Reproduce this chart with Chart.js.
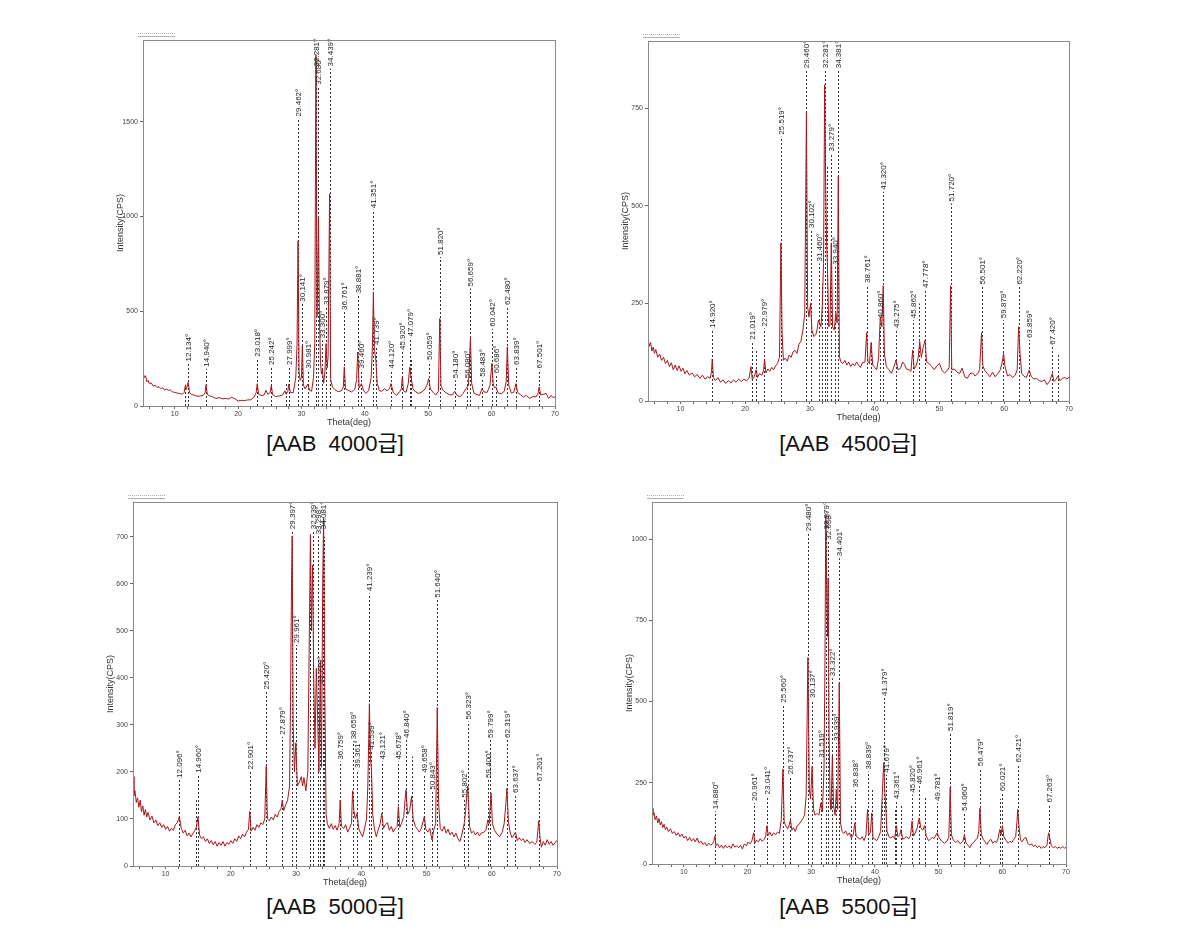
<!DOCTYPE html>
<html><head><meta charset="utf-8">
<script src="https://cdn.jsdelivr.net/npm/chart.js@4.4.1/dist/chart.umd.min.js"></script>
<style>
html,body{margin:0;padding:0;background:#fff;}
body{width:1192px;height:935px;position:relative;overflow:hidden;}
canvas{position:absolute;}
.cap{position:absolute;font-size:22px;line-height:22px;color:#111;white-space:pre;font-family:"Liberation Sans","Noto Sans CJK KR",sans-serif;transform:translateX(-50%);}
</style></head><body>
<canvas id="c1"></canvas><canvas id="c2"></canvas><canvas id="c3"></canvas><canvas id="c4"></canvas>
<div class="cap" id="t1">[AAB  4000급]</div>
<div class="cap" id="t2">[AAB  4500급]</div>
<div class="cap" id="t3">[AAB  5000급]</div>
<div class="cap" id="t4">[AAB  5500급]</div>
<script>
// ---------- data ----------
const thetaTicks = [6,8,10,12,14,16,18,20,22,24,26,28,30,32,34,36,38,40,42,44,46,48,50,52,54,56,58,60,62,64,66,68,70];
const yTicks4000 = [0,500,1000,1500];
const yTicks4500 = [0,250,500,750];
const yTicks5000 = [0,100,200,300,400,500,600,700];
const yTicks5500 = [0,250,500,750,1000];

const pattern4000 = [[5.0,180],[5.2,150],[5.4,160],[5.6,128],[5.8,135],[6.0,118],[6.3,122],[6.6,105],[6.9,110],[7.2,98],[7.5,102],[7.8,92],[8.1,96],[8.4,84],[8.7,90],[9.0,82],[9.3,86],[9.6,75],[10.0,72],[10.4,68],[10.8,66],[11.2,62],[11.5,72],[11.7,112],[11.85,88],[12.13,125],[12.35,70],[12.7,60],[13.1,57],[13.5,52],[14.0,52],[14.5,56],[14.8,70],[14.94,112],[15.15,60],[15.5,54],[16.0,48],[16.5,40],[17.0,44],[17.5,38],[18.0,40],[18.5,37],[19.0,46],[19.5,38],[20.0,26],[20.5,30],[21.0,29],[21.5,32],[22.0,33],[22.5,46],[22.85,70],[23.02,118],[23.25,62],[23.7,55],[24.1,58],[24.4,82],[24.7,62],[25.05,70],[25.24,108],[25.45,60],[25.9,50],[26.4,52],[27.0,58],[27.4,80],[27.6,62],[27.85,78],[28.0,115],[28.25,72],[28.7,70],[29.1,150],[29.3,320],[29.46,872],[29.62,180],[29.8,135],[30.0,150],[30.14,318],[30.3,110],[30.6,90],[30.98,115],[31.3,82],[31.6,78],[31.9,150],[32.1,330],[32.28,1855],[32.45,470],[32.55,650],[32.68,995],[32.82,500],[33.0,230],[33.15,170],[33.3,192],[33.5,120],[33.7,180],[33.88,330],[34.05,200],[34.2,260],[34.44,1120],[34.6,140],[34.9,100],[35.3,85],[35.8,76],[36.3,80],[36.6,100],[36.76,206],[36.95,90],[37.4,82],[37.9,74],[38.4,88],[38.7,140],[38.88,285],[39.1,95],[39.46,118],[39.8,80],[40.2,66],[40.6,82],[41.0,150],[41.2,320],[41.35,602],[41.5,300],[41.74,240],[41.95,120],[42.3,80],[42.7,78],[43.1,92],[43.5,80],[43.9,92],[44.12,118],[44.5,70],[45.0,56],[45.5,76],[45.75,90],[45.92,155],[46.1,80],[46.5,72],[46.85,118],[47.08,205],[47.3,150],[47.6,90],[48.0,75],[48.5,66],[49.0,74],[49.5,90],[49.8,110],[50.06,144],[50.35,90],[50.8,70],[51.2,58],[51.6,78],[51.82,462],[52.0,108],[52.3,84],[52.8,70],[53.3,60],[53.8,58],[54.18,78],[54.5,58],[55.0,48],[55.5,66],[55.9,90],[56.08,96],[56.35,110],[56.66,362],[56.85,120],[57.2,68],[57.7,60],[58.1,56],[58.48,92],[58.8,74],[59.3,72],[59.75,110],[60.04,225],[60.25,120],[60.45,96],[60.69,100],[61.0,70],[61.5,64],[62.0,78],[62.3,130],[62.48,312],[62.7,110],[63.1,68],[63.5,72],[63.84,118],[64.1,72],[64.6,58],[65.0,48],[65.5,56],[66.0,40],[66.5,50],[67.0,48],[67.3,62],[67.5,100],[67.75,58],[68.2,62],[68.6,66],[69.0,40],[69.4,56],[69.7,44],[70.0,48]];

const markers4000 = [[11.6,110,''],[12.134,224,'12.134°'],[14.940,197,'14.940°'],[23.018,250,'23.018°'],[25.242,206,'25.242°'],[27.5,120,''],[27.999,206,'27.999°'],[29.462,1518,'29.462°'],[30.141,540,'30.141°'],[30.981,188,'30.981°'],[32.281,1782,'32.281°'],[32.680,1685,'32.680°'],[33.300,347,'33.300°'],[33.879,523,'33.879°'],[34.439,1782,'34.439°'],[36.761,496,'36.761°'],[38.881,584,'38.881°'],[39.460,188,'39.460°'],[41.351,1033,'41.351°'],[41.739,312,'41.739°'],[44.120,188,'44.120°'],[45.920,285,'45.920°'],[47.079,356,'47.079°'],[47.3,250,''],[50.059,232,'50.059°'],[51.820,787,'51.820°'],[54.180,136,'54.180°'],[56.080,136,'56.080°'],[56.659,620,'56.659°'],[58.483,144,'58.483°'],[60.042,408,'60.042°'],[60.686,162,'60.686°'],[62.480,523,'62.480°'],[63.839,206,'63.839°'],[67.501,188,'67.501°']];

const pattern4500 = [[5.0,160],[5.2,140],[5.4,150],[5.6,128],[5.8,138],[6.0,122],[6.2,132],[6.5,112],[6.8,120],[7.1,104],[7.4,112],[7.7,96],[8.0,104],[8.3,88],[8.6,98],[8.9,80],[9.2,92],[9.5,78],[9.8,90],[10.1,76],[10.4,84],[10.7,70],[11.0,78],[11.4,66],[11.8,72],[12.2,62],[12.6,68],[13.0,58],[13.4,66],[13.8,56],[14.2,62],[14.6,58],[14.8,75],[14.92,108],[15.1,60],[15.4,52],[15.8,60],[16.2,48],[16.6,54],[17.0,45],[17.4,52],[17.8,46],[18.2,54],[18.6,48],[19.0,56],[19.4,50],[19.8,56],[20.2,52],[20.6,58],[20.9,88],[21.1,55],[21.4,62],[21.7,80],[21.9,60],[22.2,70],[22.6,66],[22.85,80],[23.0,108],[23.2,72],[23.5,82],[23.8,76],[24.1,86],[24.4,80],[24.7,90],[25.0,96],[25.3,112],[25.52,405],[25.7,175],[25.9,104],[26.2,110],[26.5,102],[26.8,118],[27.1,112],[27.4,126],[27.7,130],[28.0,122],[28.3,145],[28.6,152],[28.9,180],[29.2,225],[29.46,738],[29.65,240],[29.85,215],[30.1,250],[30.3,182],[30.6,165],[30.9,170],[31.1,182],[31.3,207],[31.5,200],[31.7,190],[31.9,240],[32.1,352],[32.28,810],[32.42,570],[32.55,420],[32.7,350],[32.9,190],[33.1,195],[33.3,405],[33.5,190],[33.75,182],[34.0,224],[34.2,200],[34.38,575],[34.55,113],[34.8,100],[35.1,96],[35.4,104],[35.7,92],[36.0,100],[36.3,88],[36.6,96],[36.9,90],[37.2,100],[37.5,92],[37.8,86],[38.1,98],[38.5,100],[38.76,175],[38.95,100],[39.2,96],[39.45,150],[39.7,92],[40.0,86],[40.3,80],[40.6,110],[40.86,216],[41.1,190],[41.32,295],[41.5,120],[41.8,88],[42.2,80],[42.6,71],[42.9,84],[43.28,105],[43.6,80],[44.0,84],[44.3,100],[44.6,94],[44.9,82],[45.3,80],[45.6,76],[45.86,130],[46.1,82],[46.4,90],[46.7,110],[46.95,152],[47.2,112],[47.5,138],[47.78,156],[48.0,100],[48.4,96],[48.8,88],[49.2,80],[49.6,90],[50.0,96],[50.4,78],[50.8,72],[51.2,78],[51.5,86],[51.72,295],[51.9,80],[52.3,82],[52.7,74],[53.1,70],[53.5,84],[53.9,62],[54.3,58],[54.7,70],[55.1,72],[55.5,64],[55.9,70],[56.2,80],[56.5,175],[56.7,90],[57.0,78],[57.4,70],[57.8,62],[58.2,74],[58.6,62],[59.0,70],[59.4,80],[59.7,100],[59.9,122],[60.1,90],[60.5,64],[60.9,68],[61.3,60],[61.7,66],[62.0,80],[62.22,190],[62.45,120],[62.7,70],[63.0,64],[63.4,60],[63.86,79],[64.2,62],[64.6,56],[65.0,58],[65.4,52],[65.8,50],[66.2,54],[66.6,42],[67.0,50],[67.42,70],[67.7,50],[68.0,56],[68.3,64],[68.6,52],[69.0,58],[69.4,60],[69.7,56],[70.0,62]];

const markers4500 = [[14.920,182,'14.920°'],[21.019,152,'21.019°'],[21.7,130,''],[22.979,186,'22.979°'],[25.519,677,'25.519°'],[29.460,847,'29.460°'],[30.102,438,'30.102°'],[31.460,352,'31.460°'],[31.8,300,''],[32.281,847,'32.281°'],[32.6,600,''],[33.279,634,'33.279°'],[33.940,344,'33.940°'],[34.381,847,'34.381°'],[38.761,297,'38.761°'],[39.45,150,''],[40.860,207,'40.860°'],[41.320,536,'41.320°'],[43.275,182,'43.275°'],[45.862,207,'45.862°'],[46.9,250,''],[47.778,284,'47.778°'],[51.720,506,'51.720°'],[56.501,293,'56.501°'],[59.879,207,'59.879°'],[62.220,293,'62.220°'],[63.859,156,'63.859°'],[67.420,139,'67.420°'],[68.3,122,'']];

const pattern5000 = [[5.0,190],[5.15,150],[5.3,160],[5.5,135],[5.7,145],[5.9,125],[6.1,140],[6.3,115],[6.5,128],[6.7,108],[6.9,120],[7.1,104],[7.3,114],[7.6,98],[7.9,106],[8.2,92],[8.5,98],[8.8,86],[9.1,92],[9.4,82],[9.7,88],[10.0,78],[10.3,84],[10.6,74],[10.9,80],[11.2,76],[11.5,88],[11.8,92],[12.1,105],[12.4,80],[12.7,70],[13.0,76],[13.3,64],[13.6,70],[13.9,62],[14.2,70],[14.5,76],[14.7,82],[14.96,104],[15.2,66],[15.5,58],[15.8,62],[16.1,52],[16.4,58],[16.7,48],[17.0,54],[17.3,45],[17.6,52],[17.9,42],[18.2,50],[18.5,44],[18.8,52],[19.1,42],[19.4,50],[19.7,46],[20.0,54],[20.3,48],[20.6,58],[20.9,52],[21.2,64],[21.5,58],[21.8,68],[22.1,62],[22.4,72],[22.7,78],[22.9,116],[23.1,74],[23.4,82],[23.7,76],[24.0,88],[24.3,82],[24.6,92],[24.9,88],[25.2,100],[25.42,212],[25.6,100],[25.9,96],[26.2,104],[26.5,98],[26.8,110],[27.1,104],[27.4,116],[27.7,122],[27.88,140],[28.1,118],[28.4,130],[28.7,140],[29.0,170],[29.15,350],[29.3,600],[29.4,702],[29.55,300],[29.75,200],[29.96,262],[30.2,170],[30.5,178],[30.8,190],[31.0,170],[31.2,188],[31.5,160],[31.8,200],[32.0,450],[32.2,705],[32.35,500],[32.54,640],[32.7,400],[32.9,250],[33.1,420],[33.3,320],[33.5,200],[33.72,435],[33.9,210],[34.08,600],[34.22,740],[34.4,380],[34.6,110],[34.8,90],[35.1,80],[35.4,90],[35.7,78],[36.0,86],[36.3,76],[36.6,90],[36.76,140],[36.95,84],[37.3,80],[37.6,88],[37.9,72],[38.2,80],[38.5,92],[38.66,160],[38.85,118],[39.1,100],[39.36,112],[39.6,80],[39.9,70],[40.2,62],[40.5,80],[40.8,100],[41.0,170],[41.24,345],[41.4,230],[41.56,205],[41.75,110],[42.0,80],[42.3,62],[42.6,78],[42.9,90],[43.12,112],[43.4,80],[43.7,88],[44.0,92],[44.3,76],[44.6,84],[44.9,72],[45.2,80],[45.5,84],[45.68,126],[45.9,82],[46.2,92],[46.5,105],[46.84,162],[47.1,110],[47.4,118],[47.7,148],[47.95,100],[48.3,84],[48.6,78],[48.9,72],[49.2,80],[49.66,105],[49.9,78],[50.2,72],[50.5,80],[50.84,55],[51.1,76],[51.4,90],[51.64,337],[51.85,135],[52.1,80],[52.4,74],[52.7,84],[53.0,70],[53.3,78],[53.6,66],[53.9,72],[54.2,62],[54.5,70],[54.8,58],[55.1,52],[55.4,66],[55.8,92],[56.0,120],[56.32,170],[56.6,84],[56.9,70],[57.2,74],[57.5,66],[57.8,72],[58.1,64],[58.4,70],[58.8,72],[59.1,76],[59.4,98],[59.6,90],[59.9,155],[60.1,90],[60.4,76],[60.8,68],[61.2,62],[61.6,72],[61.9,90],[62.15,130],[62.32,165],[62.55,95],[62.8,72],[63.1,60],[63.4,66],[63.64,72],[63.9,54],[64.2,60],[64.5,54],[64.8,58],[65.1,50],[65.4,56],[65.8,48],[66.2,52],[66.6,46],[66.9,50],[67.2,96],[67.4,60],[67.6,40],[67.9,52],[68.2,44],[68.5,56],[68.8,46],[69.1,52],[69.4,44],[69.7,50],[70.0,54]];

const markers5000 = [[12.096,183,'12.096°'],[14.6,140,''],[14.960,194,'14.960°'],[22.901,201,'22.901°'],[25.420,371,'25.420°'],[27.879,275,'27.879°'],[29.397,712,'29.397°'],[29.961,470,'29.961°'],[32.2,700,''],[32.539,712,'32.539°'],[33.298,701,'33.298°'],[33.719,382,'33.719°'],[34.081,712,'34.081°'],[34.3,700,''],[36.759,222,'36.759°'],[38.659,265,'38.659°'],[39.361,204,'39.361°'],[41.239,580,'41.239°'],[41.539,243,'41.539°'],[43.121,222,'43.121°'],[45.678,222,'45.678°'],[46.840,268,'46.840°'],[47.7,233,''],[49.658,194,'49.658°'],[50.843,158,'50.843°'],[51.640,566,'51.640°'],[55.802,141,'55.802°'],[56.323,307,'56.323°'],[59.400,183,'59.400°'],[59.799,268,'59.799°'],[62.319,268,'62.319°'],[63.637,151,'63.637°'],[67.201,176,'67.201°']];

const pattern5500 = [[5.0,172],[5.15,150],[5.3,158],[5.5,136],[5.7,148],[5.9,126],[6.1,140],[6.3,120],[6.5,130],[6.7,112],[6.9,122],[7.1,106],[7.3,114],[7.6,100],[7.9,108],[8.2,94],[8.5,100],[8.8,88],[9.1,96],[9.4,84],[9.7,92],[10.0,80],[10.3,86],[10.6,72],[10.9,82],[11.2,70],[11.5,78],[11.8,68],[12.1,80],[12.4,64],[12.7,70],[13.0,60],[13.3,66],[13.6,56],[13.9,64],[14.2,58],[14.5,62],[14.7,70],[14.88,86],[15.05,56],[15.3,62],[15.6,50],[15.9,58],[16.2,48],[16.5,58],[16.8,50],[17.1,56],[17.4,48],[17.7,62],[18.0,52],[18.3,56],[18.6,50],[18.9,58],[19.2,46],[19.5,62],[19.8,56],[20.1,68],[20.4,62],[20.7,72],[20.96,96],[21.15,64],[21.4,74],[21.7,68],[22.0,78],[22.3,70],[22.6,76],[22.85,86],[23.04,118],[23.25,88],[23.5,98],[23.8,86],[24.1,96],[24.4,90],[24.7,98],[25.0,94],[25.3,136],[25.56,292],[25.75,130],[26.0,118],[26.3,108],[26.55,120],[26.74,136],[26.95,104],[27.2,112],[27.5,100],[27.8,118],[28.1,122],[28.4,132],[28.7,140],[28.95,150],[29.2,210],[29.48,635],[29.7,230],[29.9,200],[30.14,300],[30.35,170],[30.6,150],[30.9,156],[31.2,150],[31.52,188],[31.75,160],[32.0,290],[32.15,600],[32.28,1072],[32.42,860],[32.55,700],[32.66,880],[32.8,400],[32.95,200],[33.1,168],[33.32,332],[33.5,180],[33.75,150],[33.94,230],[34.15,168],[34.4,558],[34.6,126],[34.85,100],[35.1,94],[35.4,102],[35.7,88],[36.0,96],[36.3,80],[36.6,90],[36.84,126],[37.05,86],[37.4,80],[37.7,76],[38.0,84],[38.3,72],[38.6,90],[38.84,168],[39.05,90],[39.3,98],[39.5,157],[39.7,80],[40.0,76],[40.3,72],[40.6,84],[40.9,100],[41.1,190],[41.38,312],[41.55,220],[41.68,188],[41.9,100],[42.2,84],[42.5,80],[42.8,86],[43.1,78],[43.36,118],[43.6,84],[43.9,90],[44.1,106],[44.35,76],[44.7,80],[45.0,84],[45.3,78],[45.6,88],[45.82,132],[46.05,86],[46.35,96],[46.65,112],[46.96,142],[47.2,112],[47.5,104],[47.8,118],[48.05,86],[48.4,72],[48.7,76],[49.0,82],[49.3,78],[49.55,88],[49.78,96],[50.1,80],[50.5,70],[50.9,64],[51.3,70],[51.6,82],[51.82,236],[52.0,90],[52.3,74],[52.7,66],[53.0,72],[53.4,62],[53.8,70],[54.06,90],[54.3,64],[54.6,58],[54.9,50],[55.2,62],[55.5,66],[55.8,74],[56.1,80],[56.3,100],[56.48,172],[56.7,90],[57.0,76],[57.3,68],[57.6,60],[57.9,70],[58.2,76],[58.5,64],[58.8,70],[59.1,66],[59.35,80],[59.6,106],[59.8,90],[60.02,118],[60.25,84],[60.6,72],[60.9,64],[61.2,70],[61.5,66],[61.8,76],[62.1,84],[62.3,130],[62.42,168],[62.6,120],[62.85,74],[63.1,68],[63.4,78],[63.7,82],[64.0,64],[64.3,58],[64.6,62],[64.9,54],[65.2,58],[65.5,50],[65.8,56],[66.1,48],[66.4,54],[66.7,50],[67.0,58],[67.26,96],[67.45,80],[67.7,56],[68.0,50],[68.3,54],[68.6,48],[68.9,52],[69.2,48],[69.5,54],[69.8,48],[70.0,52]];

const markers5500 = [[14.880,162,'14.880°'],[20.961,188,'20.961°'],[23.041,208,'23.041°'],[25.560,490,'25.560°'],[26.737,270,'26.737°'],[29.480,1018,'29.480°'],[30.137,505,'30.137°'],[31.519,321,'31.519°'],[32.279,1023,'32.279°'],[32.658,992,'32.658°'],[33.322,572,'33.322°'],[33.939,372,'33.939°'],[34.401,941,'34.401°'],[36.2,180,''],[36.838,229,'36.838°'],[38.839,285,'38.839°'],[39.5,229,''],[41.1,200,''],[41.379,511,'41.379°'],[41.679,275,'41.679°'],[43.1,170,''],[43.361,193,'43.361°'],[44.1,183,''],[45.820,213,'45.820°'],[46.961,239,'46.961°'],[47.8,208,''],[49.781,188,'49.781°'],[51.819,403,'51.819°'],[54.060,157,'54.060°'],[56.479,295,'56.479°'],[59.6,200,''],[60.021,218,'60.021°'],[62.421,306,'62.421°'],[67.263,183,'67.263°']];

// ---------- layout (positions only) ----------
const panels = [
  {id:'c1', cap:'t1', capPos:[335,433], box:[95,30,470,400], plot:[143,40,555,406], data:pattern4000, markers:markers4000, yTicks:yTicks4000, yMax:1932},
  {id:'c2', cap:'t2', capPos:[848,433], box:[600,30,480,395], plot:[648,41,1069,401], data:pattern4500, markers:markers4500, yTicks:yTicks4500, yMax:922},
  {id:'c3', cap:'t3', capPos:[335,896], box:[85,492,482,398], plot:[133,502,557,866], data:pattern5000, markers:markers5000, yTicks:yTicks5000, yMax:774},
  {id:'c4', cap:'t4', capPos:[848,896], box:[604,492,472,396], plot:[652,502,1066,864], data:pattern5500, markers:markers5500, yTicks:yTicks5500, yMax:1114}
];

function makePlugin(markers){
  return {
    id:'xrdDeco',
    beforeDatasetsDraw(chart){
      const {ctx, scales:{x:xs, y:ys}} = chart;
      ctx.save();
      ctx.strokeStyle = '#333'; ctx.lineWidth = 1; ctx.setLineDash([2,2]);
      for (const [pos, base] of markers){
        const x = Math.round(xs.getPixelForValue(pos)) + 0.5;
        ctx.beginPath();
        ctx.moveTo(x, ys.getPixelForValue(0));
        ctx.lineTo(x, ys.getPixelForValue(base));
        ctx.stroke();
      }
      ctx.restore();
    },
    afterDatasetsDraw(chart){
      const {ctx, chartArea:a, scales:{x:xs, y:ys}} = chart;
      ctx.save();
      ctx.fillStyle = '#222';
      ctx.font = '8px "Liberation Sans", Arial, sans-serif';
      ctx.textAlign = 'left'; ctx.textBaseline = 'middle';
      for (const [pos, base, label] of markers){
        if (!label) continue;
        const x = Math.round(xs.getPixelForValue(pos)) + 0.5;
        const y = ys.getPixelForValue(base) - 2;
        ctx.save(); ctx.translate(x, y); ctx.rotate(-Math.PI/2);
        ctx.fillText(label, 0, 0); ctx.restore();
      }
      ctx.strokeStyle = '#8a8a8a'; ctx.lineWidth = 1; ctx.setLineDash([]);
      ctx.strokeRect(Math.round(a.left)+0.5, Math.round(a.top)+0.5, Math.round(a.right-a.left), Math.round(a.bottom-a.top));
      ctx.strokeStyle = '#b0b0b0';
      ctx.setLineDash([1,1]);
      ctx.beginPath(); ctx.moveTo(a.left-5, a.top-6.5); ctx.lineTo(a.left+32, a.top-6.5); ctx.stroke();
      ctx.setLineDash([]);
      ctx.beginPath(); ctx.moveTo(a.left-5, a.top-3.5); ctx.lineTo(a.left+32, a.top-3.5); ctx.stroke();
      ctx.restore();
    }
  };
}

for (const p of panels){
  const cv = document.getElementById(p.id);
  cv.width = p.box[2]; cv.height = p.box[3];
  cv.style.left = p.box[0]+'px'; cv.style.top = p.box[1]+'px';
  cv.style.width = p.box[2]+'px'; cv.style.height = p.box[3]+'px';
  const cap = document.getElementById(p.cap);
  cap.style.left = p.capPos[0]+'px'; cap.style.top = p.capPos[1]+'px';
  const yAxisW = p.plot[0]-p.box[0];
  const xAxisH = p.box[1]+p.box[3]-p.plot[3];
  new Chart(cv.getContext('2d'), {
    type:'line',
    data:{datasets:[{data:p.data, borderColor:'#a8161c', borderWidth:1, pointRadius:0, tension:0, fill:false}]},
    options:{
      responsive:false, animation:false, devicePixelRatio:1,
      layout:{padding:{left:0, bottom:0, top:p.plot[1]-p.box[1], right:p.box[0]+p.box[2]-p.plot[2]}},
      plugins:{legend:{display:false}, tooltip:{enabled:false}},
      scales:{
        x:{type:'linear', min:5, max:70,
          afterBuildTicks:s=>{ s.ticks = thetaTicks.map(v=>({value:v})); },
          afterFit:s=>{ s.height = xAxisH; },
          ticks:{autoSkip:false, maxRotation:0, padding:1, color:'#444', font:{size:7, family:'Liberation Sans'},
                 callback:v=> (v%10===0 ? String(v) : '')},
          grid:{drawOnChartArea:false, drawTicks:true, tickLength:3, color:'#666'},
          border:{color:'#8a8a8a'},
          title:{display:true, text:'Theta(deg)', color:'#333', font:{size:9, family:'Liberation Sans'}, padding:{top:0,bottom:2}}
        },
        y:{type:'linear', min:0, max:p.yMax,
          afterBuildTicks:s=>{ s.ticks = p.yTicks.map(v=>({value:v})); },
          afterFit:s=>{ s.width = yAxisW; },
          ticks:{padding:2, color:'#444', font:{size:7, family:'Liberation Sans'}, callback:v=>String(v)},
          grid:{drawOnChartArea:false, drawTicks:true, tickLength:3, color:'#666'},
          border:{color:'#8a8a8a'},
          title:{display:true, text:'Intensity(CPS)', color:'#333', font:{size:9, family:'Liberation Sans'}, padding:{top:20,bottom:0}}
        }
      }
    },
    plugins:[makePlugin(p.markers)]
  });
}
</script>
</body></html>
